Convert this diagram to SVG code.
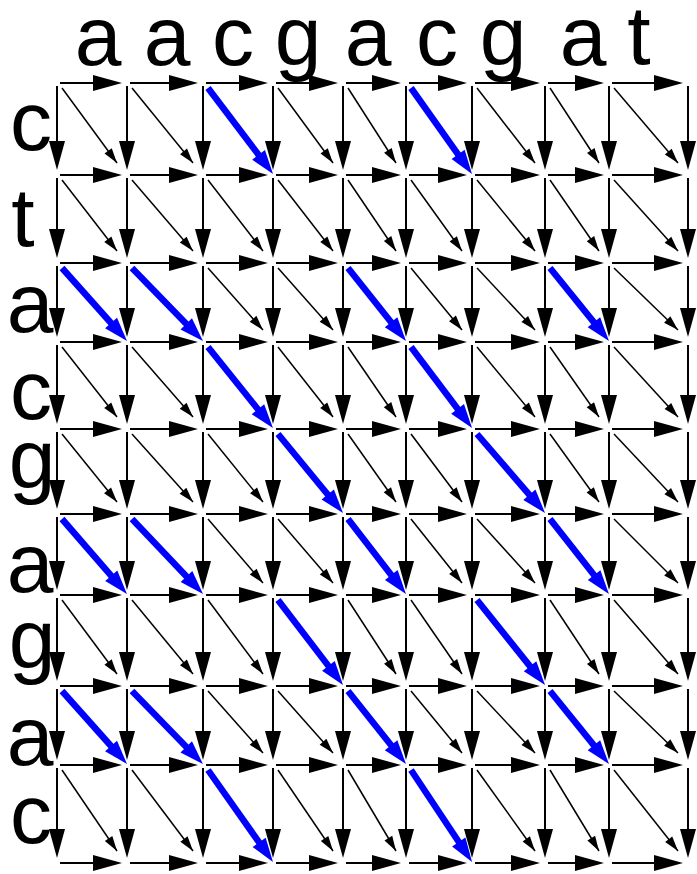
<svg xmlns="http://www.w3.org/2000/svg" width="697" height="874" viewBox="0 0 697 874">
<style>
.lbl{font-family:"Liberation Sans",Arial,sans-serif;font-size:84px;fill:#000;text-anchor:middle}
.h line,.v line{stroke:#000;stroke-width:2;fill:none;marker-end:url(#big)}
.d line{stroke:#000;stroke-width:1.5;fill:none;marker-end:url(#small)}
.b line{stroke:#0000ff;stroke-width:6.5;fill:none;marker-end:url(#blue)}
</style>
<defs>
<marker id="big" markerUnits="userSpaceOnUse" markerWidth="29" markerHeight="16" refX="19" refY="8" orient="auto" overflow="visible"><path d="M0,0 L29,8 L0,16 z" fill="#000"/></marker>
<marker id="small" markerUnits="userSpaceOnUse" markerWidth="15" markerHeight="9" refX="15" refY="4.5" orient="auto" overflow="visible"><path d="M0,0 L15,4.5 L0,9 z" fill="#000"/></marker>
<marker id="blue" markerUnits="userSpaceOnUse" markerWidth="24" markerHeight="16" refX="10" refY="8" orient="auto" overflow="visible"><path d="M0,0 L24,8 L0,16 z" fill="#0000ff"/></marker>
</defs>
<g id="top-labels">
<text id="col1" class="lbl" x="98" y="65">a</text>
<text id="col2" class="lbl" x="167" y="65">a</text>
<text id="col3" class="lbl" x="233" y="65">c</text>
<text id="col4" class="lbl" x="298" y="65">g</text>
<text id="col5" class="lbl" x="368" y="65">a</text>
<text id="col6" class="lbl" x="437" y="65">c</text>
<text id="col7" class="lbl" x="503" y="65">g</text>
<text id="col8" class="lbl" x="583" y="65">a</text>
<text id="col9" class="lbl" x="639" y="64">t</text>
</g>
<g id="left-labels">
<text id="row1" class="lbl" x="31" y="150">c</text>
<text id="row2" class="lbl" x="23" y="246">t</text>
<text id="row3" class="lbl" x="30" y="332">a</text>
<text id="row4" class="lbl" x="31" y="419">c</text>
<text id="row5" class="lbl" x="32" y="488">g</text>
<text id="row6" class="lbl" x="30" y="592">a</text>
<text id="row7" class="lbl" x="32" y="668">g</text>
<text id="row8" class="lbl" x="30" y="765">a</text>
<text id="row9" class="lbl" x="31" y="843">c</text>
</g>
<g id="connectors">
<g id="horizontal" class="h">
<line x1="60" y1="83" x2="112" y2="83"/><line x1="130" y1="83" x2="188" y2="83"/><line x1="206" y1="83" x2="258" y2="83"/><line x1="276" y1="83" x2="328" y2="83"/><line x1="346" y1="83" x2="391" y2="83"/><line x1="409" y1="83" x2="457" y2="83"/><line x1="475" y1="83" x2="530" y2="83"/><line x1="548" y1="83" x2="594" y2="83"/><line x1="612" y1="83" x2="673" y2="83"/>
<line x1="60" y1="175" x2="112" y2="175"/><line x1="130" y1="175" x2="188" y2="175"/><line x1="206" y1="175" x2="258" y2="175"/><line x1="276" y1="175" x2="328" y2="175"/><line x1="346" y1="175" x2="391" y2="175"/><line x1="409" y1="175" x2="457" y2="175"/><line x1="475" y1="175" x2="530" y2="175"/><line x1="548" y1="175" x2="594" y2="175"/><line x1="612" y1="175" x2="673" y2="175"/>
<line x1="60" y1="263" x2="112" y2="263"/><line x1="130" y1="263" x2="188" y2="263"/><line x1="206" y1="263" x2="258" y2="263"/><line x1="276" y1="263" x2="328" y2="263"/><line x1="346" y1="263" x2="391" y2="263"/><line x1="409" y1="263" x2="457" y2="263"/><line x1="475" y1="263" x2="530" y2="263"/><line x1="548" y1="263" x2="594" y2="263"/><line x1="612" y1="263" x2="673" y2="263"/>
<line x1="60" y1="342" x2="112" y2="342"/><line x1="130" y1="342" x2="188" y2="342"/><line x1="206" y1="342" x2="258" y2="342"/><line x1="276" y1="342" x2="328" y2="342"/><line x1="346" y1="342" x2="391" y2="342"/><line x1="409" y1="342" x2="457" y2="342"/><line x1="475" y1="342" x2="530" y2="342"/><line x1="548" y1="342" x2="594" y2="342"/><line x1="612" y1="342" x2="673" y2="342"/>
<line x1="60" y1="429" x2="112" y2="429"/><line x1="130" y1="429" x2="188" y2="429"/><line x1="206" y1="429" x2="258" y2="429"/><line x1="276" y1="429" x2="328" y2="429"/><line x1="346" y1="429" x2="391" y2="429"/><line x1="409" y1="429" x2="457" y2="429"/><line x1="475" y1="429" x2="530" y2="429"/><line x1="548" y1="429" x2="594" y2="429"/><line x1="612" y1="429" x2="673" y2="429"/>
<line x1="60" y1="514" x2="112" y2="514"/><line x1="130" y1="514" x2="188" y2="514"/><line x1="206" y1="514" x2="258" y2="514"/><line x1="276" y1="514" x2="328" y2="514"/><line x1="346" y1="514" x2="391" y2="514"/><line x1="409" y1="514" x2="457" y2="514"/><line x1="475" y1="514" x2="530" y2="514"/><line x1="548" y1="514" x2="594" y2="514"/><line x1="612" y1="514" x2="673" y2="514"/>
<line x1="60" y1="595" x2="112" y2="595"/><line x1="130" y1="595" x2="188" y2="595"/><line x1="206" y1="595" x2="258" y2="595"/><line x1="276" y1="595" x2="328" y2="595"/><line x1="346" y1="595" x2="391" y2="595"/><line x1="409" y1="595" x2="457" y2="595"/><line x1="475" y1="595" x2="530" y2="595"/><line x1="548" y1="595" x2="594" y2="595"/><line x1="612" y1="595" x2="673" y2="595"/>
<line x1="60" y1="686" x2="112" y2="686"/><line x1="130" y1="686" x2="188" y2="686"/><line x1="206" y1="686" x2="258" y2="686"/><line x1="276" y1="686" x2="328" y2="686"/><line x1="346" y1="686" x2="391" y2="686"/><line x1="409" y1="686" x2="457" y2="686"/><line x1="475" y1="686" x2="530" y2="686"/><line x1="548" y1="686" x2="594" y2="686"/><line x1="612" y1="686" x2="673" y2="686"/>
<line x1="60" y1="765" x2="112" y2="765"/><line x1="130" y1="765" x2="188" y2="765"/><line x1="206" y1="765" x2="258" y2="765"/><line x1="276" y1="765" x2="328" y2="765"/><line x1="346" y1="765" x2="391" y2="765"/><line x1="409" y1="765" x2="457" y2="765"/><line x1="475" y1="765" x2="530" y2="765"/><line x1="548" y1="765" x2="594" y2="765"/><line x1="612" y1="765" x2="673" y2="765"/>
<line x1="60" y1="863" x2="112" y2="863"/><line x1="130" y1="863" x2="188" y2="863"/><line x1="206" y1="863" x2="258" y2="863"/><line x1="276" y1="863" x2="328" y2="863"/><line x1="346" y1="863" x2="391" y2="863"/><line x1="409" y1="863" x2="457" y2="863"/><line x1="475" y1="863" x2="530" y2="863"/><line x1="548" y1="863" x2="594" y2="863"/><line x1="612" y1="863" x2="673" y2="863"/>
</g>
<g id="vertical" class="v">
<line x1="57" y1="86" x2="57" y2="160"/><line x1="57" y1="178" x2="57" y2="248"/><line x1="57" y1="266" x2="57" y2="327"/><line x1="57" y1="345" x2="57" y2="414"/><line x1="57" y1="432" x2="57" y2="499"/><line x1="57" y1="517" x2="57" y2="580"/><line x1="57" y1="598" x2="57" y2="671"/><line x1="57" y1="689" x2="57" y2="750"/><line x1="57" y1="768" x2="57" y2="848"/>
<line x1="127" y1="86" x2="127" y2="160"/><line x1="127" y1="178" x2="127" y2="248"/><line x1="127" y1="266" x2="127" y2="327"/><line x1="127" y1="345" x2="127" y2="414"/><line x1="127" y1="432" x2="127" y2="499"/><line x1="127" y1="517" x2="127" y2="580"/><line x1="127" y1="598" x2="127" y2="671"/><line x1="127" y1="689" x2="127" y2="750"/><line x1="127" y1="768" x2="127" y2="848"/>
<line x1="203" y1="86" x2="203" y2="160"/><line x1="203" y1="178" x2="203" y2="248"/><line x1="203" y1="266" x2="203" y2="327"/><line x1="203" y1="345" x2="203" y2="414"/><line x1="203" y1="432" x2="203" y2="499"/><line x1="203" y1="517" x2="203" y2="580"/><line x1="203" y1="598" x2="203" y2="671"/><line x1="203" y1="689" x2="203" y2="750"/><line x1="203" y1="768" x2="203" y2="848"/>
<line x1="273" y1="86" x2="273" y2="160"/><line x1="273" y1="178" x2="273" y2="248"/><line x1="273" y1="266" x2="273" y2="327"/><line x1="273" y1="345" x2="273" y2="414"/><line x1="273" y1="432" x2="273" y2="499"/><line x1="273" y1="517" x2="273" y2="580"/><line x1="273" y1="598" x2="273" y2="671"/><line x1="273" y1="689" x2="273" y2="750"/><line x1="273" y1="768" x2="273" y2="848"/>
<line x1="343" y1="86" x2="343" y2="160"/><line x1="343" y1="178" x2="343" y2="248"/><line x1="343" y1="266" x2="343" y2="327"/><line x1="343" y1="345" x2="343" y2="414"/><line x1="343" y1="432" x2="343" y2="499"/><line x1="343" y1="517" x2="343" y2="580"/><line x1="343" y1="598" x2="343" y2="671"/><line x1="343" y1="689" x2="343" y2="750"/><line x1="343" y1="768" x2="343" y2="848"/>
<line x1="406" y1="86" x2="406" y2="160"/><line x1="406" y1="178" x2="406" y2="248"/><line x1="406" y1="266" x2="406" y2="327"/><line x1="406" y1="345" x2="406" y2="414"/><line x1="406" y1="432" x2="406" y2="499"/><line x1="406" y1="517" x2="406" y2="580"/><line x1="406" y1="598" x2="406" y2="671"/><line x1="406" y1="689" x2="406" y2="750"/><line x1="406" y1="768" x2="406" y2="848"/>
<line x1="472" y1="86" x2="472" y2="160"/><line x1="472" y1="178" x2="472" y2="248"/><line x1="472" y1="266" x2="472" y2="327"/><line x1="472" y1="345" x2="472" y2="414"/><line x1="472" y1="432" x2="472" y2="499"/><line x1="472" y1="517" x2="472" y2="580"/><line x1="472" y1="598" x2="472" y2="671"/><line x1="472" y1="689" x2="472" y2="750"/><line x1="472" y1="768" x2="472" y2="848"/>
<line x1="545" y1="86" x2="545" y2="160"/><line x1="545" y1="178" x2="545" y2="248"/><line x1="545" y1="266" x2="545" y2="327"/><line x1="545" y1="345" x2="545" y2="414"/><line x1="545" y1="432" x2="545" y2="499"/><line x1="545" y1="517" x2="545" y2="580"/><line x1="545" y1="598" x2="545" y2="671"/><line x1="545" y1="689" x2="545" y2="750"/><line x1="545" y1="768" x2="545" y2="848"/>
<line x1="609" y1="86" x2="609" y2="160"/><line x1="609" y1="178" x2="609" y2="248"/><line x1="609" y1="266" x2="609" y2="327"/><line x1="609" y1="345" x2="609" y2="414"/><line x1="609" y1="432" x2="609" y2="499"/><line x1="609" y1="517" x2="609" y2="580"/><line x1="609" y1="598" x2="609" y2="671"/><line x1="609" y1="689" x2="609" y2="750"/><line x1="609" y1="768" x2="609" y2="848"/>
<line x1="688" y1="86" x2="688" y2="160"/><line x1="688" y1="178" x2="688" y2="248"/><line x1="688" y1="266" x2="688" y2="327"/><line x1="688" y1="345" x2="688" y2="414"/><line x1="688" y1="432" x2="688" y2="499"/><line x1="688" y1="517" x2="688" y2="580"/><line x1="688" y1="598" x2="688" y2="671"/><line x1="688" y1="689" x2="688" y2="750"/><line x1="688" y1="768" x2="688" y2="848"/>
</g>
<g id="diagonal" class="d">
<line x1="62" y1="88" x2="117" y2="163"/><line x1="132" y1="88" x2="193" y2="163"/><line x1="278" y1="88" x2="333" y2="163"/><line x1="348" y1="88" x2="396" y2="163"/><line x1="477" y1="88" x2="535" y2="163"/><line x1="550" y1="88" x2="599" y2="163"/><line x1="614" y1="88" x2="678" y2="163"/>
<line x1="62" y1="180" x2="117" y2="251"/><line x1="132" y1="180" x2="193" y2="251"/><line x1="208" y1="180" x2="263" y2="251"/><line x1="278" y1="180" x2="333" y2="251"/><line x1="348" y1="180" x2="396" y2="251"/><line x1="411" y1="180" x2="462" y2="251"/><line x1="477" y1="180" x2="535" y2="251"/><line x1="550" y1="180" x2="599" y2="251"/><line x1="614" y1="180" x2="678" y2="251"/>
<line x1="208" y1="268" x2="263" y2="330"/><line x1="278" y1="268" x2="333" y2="330"/><line x1="411" y1="268" x2="462" y2="330"/><line x1="477" y1="268" x2="535" y2="330"/><line x1="614" y1="268" x2="678" y2="330"/>
<line x1="62" y1="347" x2="117" y2="417"/><line x1="132" y1="347" x2="193" y2="417"/><line x1="278" y1="347" x2="333" y2="417"/><line x1="348" y1="347" x2="396" y2="417"/><line x1="477" y1="347" x2="535" y2="417"/><line x1="550" y1="347" x2="599" y2="417"/><line x1="614" y1="347" x2="678" y2="417"/>
<line x1="62" y1="434" x2="117" y2="502"/><line x1="132" y1="434" x2="193" y2="502"/><line x1="208" y1="434" x2="263" y2="502"/><line x1="348" y1="434" x2="396" y2="502"/><line x1="411" y1="434" x2="462" y2="502"/><line x1="550" y1="434" x2="599" y2="502"/><line x1="614" y1="434" x2="678" y2="502"/>
<line x1="208" y1="519" x2="263" y2="583"/><line x1="278" y1="519" x2="333" y2="583"/><line x1="411" y1="519" x2="462" y2="583"/><line x1="477" y1="519" x2="535" y2="583"/><line x1="614" y1="519" x2="678" y2="583"/>
<line x1="62" y1="600" x2="117" y2="674"/><line x1="132" y1="600" x2="193" y2="674"/><line x1="208" y1="600" x2="263" y2="674"/><line x1="348" y1="600" x2="396" y2="674"/><line x1="411" y1="600" x2="462" y2="674"/><line x1="550" y1="600" x2="599" y2="674"/><line x1="614" y1="600" x2="678" y2="674"/>
<line x1="208" y1="691" x2="263" y2="753"/><line x1="278" y1="691" x2="333" y2="753"/><line x1="411" y1="691" x2="462" y2="753"/><line x1="477" y1="691" x2="535" y2="753"/><line x1="614" y1="691" x2="678" y2="753"/>
<line x1="62" y1="770" x2="117" y2="851"/><line x1="132" y1="770" x2="193" y2="851"/><line x1="278" y1="770" x2="333" y2="851"/><line x1="348" y1="770" x2="396" y2="851"/><line x1="477" y1="770" x2="535" y2="851"/><line x1="550" y1="770" x2="599" y2="851"/><line x1="614" y1="770" x2="678" y2="851"/>
</g>
<g id="matches" class="b">
<line x1="208" y1="88" x2="264.6" y2="162.8"/><line x1="411" y1="88" x2="463.9" y2="162.6"/>
<line x1="62" y1="268" x2="117.7" y2="330.5"/><line x1="132" y1="268" x2="193.2" y2="331"/><line x1="348" y1="268" x2="397.3" y2="330"/><line x1="550" y1="268" x2="600.2" y2="330.1"/>
<line x1="208" y1="347" x2="264.2" y2="417.1"/><line x1="411" y1="347" x2="463.6" y2="416.8"/>
<line x1="278" y1="434" x2="334.1" y2="502.2"/><line x1="477" y1="434" x2="535.9" y2="502.4"/>
<line x1="62" y1="519" x2="117.8" y2="583.4"/><line x1="132" y1="519" x2="193.4" y2="583.8"/><line x1="348" y1="519" x2="397.4" y2="582.9"/><line x1="550" y1="519" x2="600.3" y2="583"/>
<line x1="278" y1="600" x2="334.5" y2="673.9"/><line x1="477" y1="600" x2="536.3" y2="674.1"/>
<line x1="62" y1="691" x2="117.7" y2="753.5"/><line x1="132" y1="691" x2="193.2" y2="754"/><line x1="348" y1="691" x2="397.3" y2="753"/><line x1="550" y1="691" x2="600.2" y2="753.1"/>
<line x1="208" y1="770" x2="264.9" y2="850.6"/><line x1="411" y1="770" x2="464.3" y2="850.3"/>
</g>
</g>
</svg>
